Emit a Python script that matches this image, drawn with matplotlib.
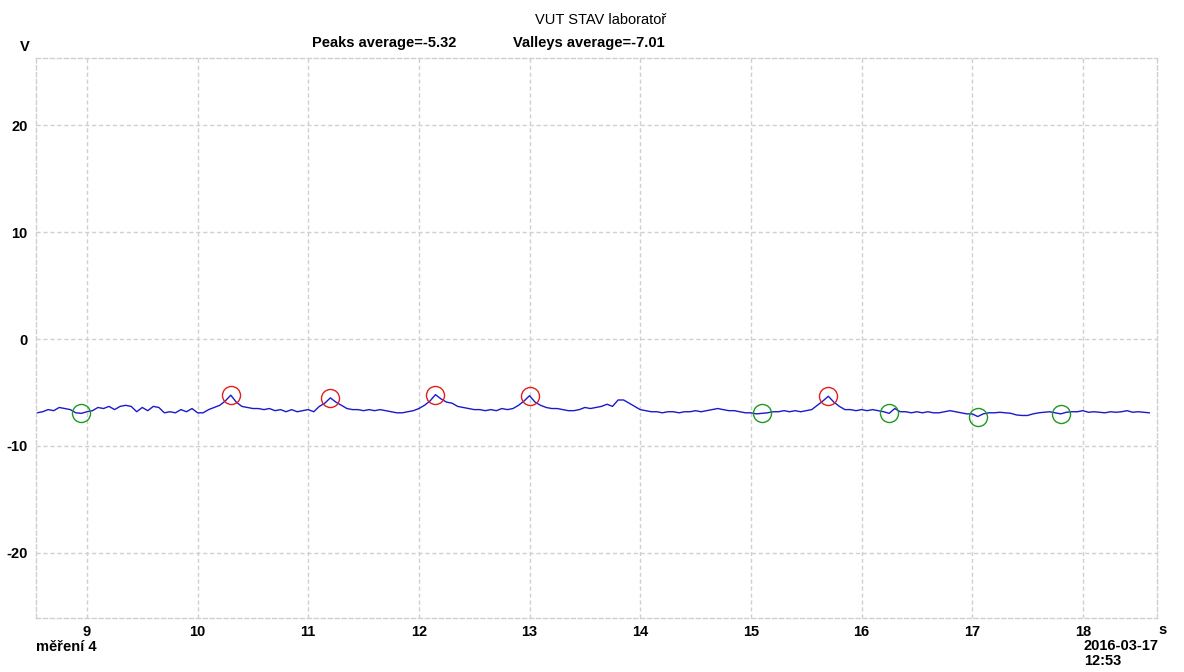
import matplotlib
matplotlib.use("Agg")
import matplotlib.pyplot as plt
import numpy as np

plt.rcParams['font.family'] = ['Liberation Sans', 'DejaVu Sans']
plt.rcParams['axes.unicode_minus'] = False

# sampled signal (V), one value every 0.05 s starting at 8.55 s
t_start = 8.55
dt = 0.05
volts = [
    -6.9, -6.8, -6.6, -6.7, -6.4, -6.5, -6.6, -6.9, -6.95, -6.8,
    -6.7, -6.4, -6.5, -6.3, -6.6, -6.3, -6.2, -6.3, -6.8, -6.4,
    -6.7, -6.3, -6.4, -6.9, -6.8, -6.9, -6.6, -6.8, -6.5, -6.9,
    -6.9, -6.6, -6.4, -6.2, -5.8, -5.25, -5.9, -6.3, -6.4, -6.5,
    -6.5, -6.6, -6.5, -6.7, -6.6, -6.8, -6.6, -6.8, -6.7, -6.6,
    -6.8, -6.3, -6.0, -5.5, -5.9, -6.2, -6.5, -6.6, -6.6, -6.7,
    -6.6, -6.7, -6.6, -6.7, -6.8, -6.9, -6.9, -6.8, -6.7, -6.5,
    -6.2, -5.8, -5.2, -5.6, -5.9, -6.0, -6.3, -6.4, -6.5, -6.6,
    -6.6, -6.7, -6.6, -6.7, -6.5, -6.6, -6.5, -6.2, -5.8, -5.3,
    -5.9, -6.2, -6.4, -6.5, -6.5, -6.6, -6.7, -6.7, -6.6, -6.4,
    -6.5, -6.4, -6.3, -6.1, -6.3, -5.7, -5.7, -6.0, -6.3, -6.6,
    -6.7, -6.8, -6.8, -6.9, -6.8, -6.8, -6.9, -6.8, -6.8, -6.7,
    -6.8, -6.7, -6.6, -6.5, -6.6, -6.7, -6.7, -6.8, -6.9, -6.9,
    -7.0, -6.95, -6.9, -6.8, -6.8, -6.7, -6.8, -6.7, -6.8, -6.7,
    -6.6, -6.2, -5.8, -5.35, -5.9, -6.3, -6.6, -6.6, -6.7, -6.6,
    -6.7, -6.6, -6.7, -6.8, -6.95, -6.5, -6.8, -6.8, -6.9, -6.8,
    -6.9, -6.8, -6.9, -6.9, -6.8, -6.7, -6.8, -6.9, -7.0, -7.0,
    -7.25, -7.0, -6.9, -6.9, -6.85, -6.9, -6.95, -7.1, -7.15, -7.15,
    -7.0, -6.9, -6.85, -6.8, -6.9, -7.0, -6.85, -6.8, -6.8, -6.7,
    -6.85, -6.8, -6.85, -6.9, -6.8, -6.85, -6.8, -6.7, -6.85, -6.8,
    -6.85, -6.9,
]
times = np.round(t_start + dt * np.arange(len(volts)), 2)

peak_t = [10.30, 11.20, 12.15, 13.00, 15.70]
peak_v = [-5.25, -5.5, -5.2, -5.3, -5.35]
valley_t = [8.95, 15.10, 16.25, 17.05, 17.80]
valley_v = [-6.95, -6.95, -6.95, -7.25, -7.0]

xticks = [9, 10, 11, 12, 13, 14, 15, 16, 17, 18]
yticks = [-20, -10, 0, 10, 20]

fs = 10.5

fig = plt.figure(figsize=(11.84, 6.72), dpi=100)
ax = fig.add_axes([36 / 1184, 1 - 618 / 672, (1157 - 36) / 1184, (618 - 58) / 672])

ax.plot(times, volts, color='#1a1acc', linewidth=1.0)
ax.plot(peak_t, peak_v, 'o', mfc='none', mec='#e02020', ms=13, mew=1.0)
ax.plot(valley_t, valley_v, 'o', mfc='none', mec='#1f9a1f', ms=13, mew=1.0)

ax.set_xlim(8.54, 18.67)
ax.set_ylim(-26.1, 26.3)
ax.set_xticks(xticks)
ax.set_yticks(yticks)
ax.tick_params(length=0, labelsize=fs)
ax.tick_params(axis='x', pad=5)
ax.tick_params(axis='y', pad=6)
for lbl in ax.get_xticklabels() + ax.get_yticklabels():
    lbl.set_fontweight('bold')

ax.grid(True, color='#d0d0d0', linestyle=(0, (3, 2)), linewidth=1.0)
for sp in ax.spines.values():
    sp.set_color('#d0d0d0')
    sp.set_linestyle((0, (3, 2)))
    sp.set_linewidth(1.0)

# texts around the plot
fig.text(601 / 1184, 1 - 20 / 672, 'VUT STAV laboratoř', ha='center', va='center', fontsize=fs)
fig.text(312 / 1184, 1 - 43 / 672, 'Peaks average=-5.32', ha='left', va='center', fontsize=fs, fontweight='bold')
fig.text(513 / 1184, 1 - 43 / 672, 'Valleys average=-7.01', ha='left', va='center', fontsize=fs, fontweight='bold')
fig.text(20 / 1184, 1 - 47 / 672, 'V', ha='left', va='center', fontsize=fs, fontweight='bold')
fig.text(1163 / 1184, 1 - 630 / 672, 's', ha='center', va='center', fontsize=fs, fontweight='bold')
fig.text(36 / 1184, 1 - 647 / 672, 'měření 4', ha='left', va='center', fontsize=fs, fontweight='bold')
fig.text(1084 / 1184, 1 - 646 / 672, '2016-03-17', ha='left', va='center', fontsize=fs, fontweight='bold')
fig.text(1084 / 1184, 1 - 661 / 672, '12:53', ha='left', va='center', fontsize=fs, fontweight='bold')

plt.savefig('out.png', dpi=100)
